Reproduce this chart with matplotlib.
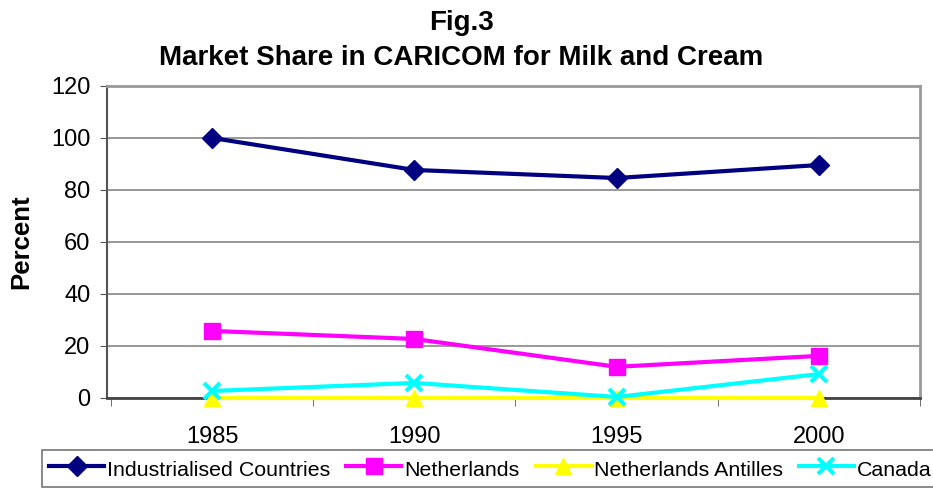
import matplotlib
matplotlib.use('Agg')
import matplotlib.pyplot as plt
import numpy as np

plt.rcParams['font.family'] = ['Liberation Sans', 'DejaVu Sans']

years = ['1985', '1990', '1995', '2000']
industrialised = [100, 87.7, 84.6, 89.6]
netherlands = [25.8, 22.7, 12.0, 16.2]
antilles = [0, 0, 0, 0]
canada = [2.7, 5.8, 0.4, 9.2]

fig = plt.figure(figsize=(9.33, 4.93), dpi=100)
ax = fig.add_axes([0.1147, 0.1927, 0.8713, 0.6329])

x = np.arange(len(years))
ax.plot(x, industrialised, color='#000080', lw=3, marker='D', ms=10,
        label='Industrialised Countries', zorder=5, clip_on=False)
ax.plot(x, netherlands, color='#ff00ff', lw=3, marker='s', ms=12,
        label='Netherlands', zorder=4, clip_on=False)
ax.plot(x, antilles, color='#ffff00', lw=3, marker='^', ms=12,
        label='Netherlands Antilles', zorder=3, clip_on=False)
ax.plot(x, canada, color='#00ffff', lw=3, marker='x', ms=12, mew=3,
        label='Canada', zorder=4, clip_on=False)

ax.set_xlim(-0.52, 3.47)
ax.set_ylim(0, 120)
ax.set_yticks(range(0, 121, 20))
ax.set_xticks(x)
ax.set_xticklabels(years)
ax.set_xticks(np.arange(-0.5, 3.6, 1), minor=True)
ax.tick_params(axis='x', which='major', length=0, labelsize=17, pad=20)
ax.tick_params(axis='x', which='minor', length=6, color='#555555', direction='out')
ax.tick_params(axis='y', labelsize=17, length=5, color='#555555', pad=7)
ax.yaxis.grid(True, color='#888888', lw=1.2)
ax.set_axisbelow(True)

for side in ['top', 'right']:
    ax.spines[side].set_color('#999999')
    ax.spines[side].set_linewidth(2)
ax.spines['left'].set_color('#555555')
ax.spines['left'].set_linewidth(1.5)
ax.spines['bottom'].set_color('#444444')
ax.spines['bottom'].set_linewidth(2)

ax.set_ylabel('Percent', fontsize=18.5, fontweight='bold', labelpad=13)
fig.text(0.495, 0.953, 'Fig.3', ha='center', va='center',
         fontsize=20, fontweight='bold')
fig.text(0.494, 0.882, 'Market Share in CARICOM for Milk and Cream',
         ha='center', va='center', fontsize=20, fontweight='bold')

leg = fig.legend(loc='upper left', bbox_to_anchor=(0.045, 0.0872), ncol=4,
                 fontsize=15.4, frameon=True, fancybox=False, edgecolor='#555555',
                 handlelength=2.57, handleheight=1.3, handletextpad=0.14,
                 columnspacing=0.75, borderpad=0.33, borderaxespad=0)
leg.get_frame().set_linewidth(1.2)

fig.savefig('out.png', dpi=100)
